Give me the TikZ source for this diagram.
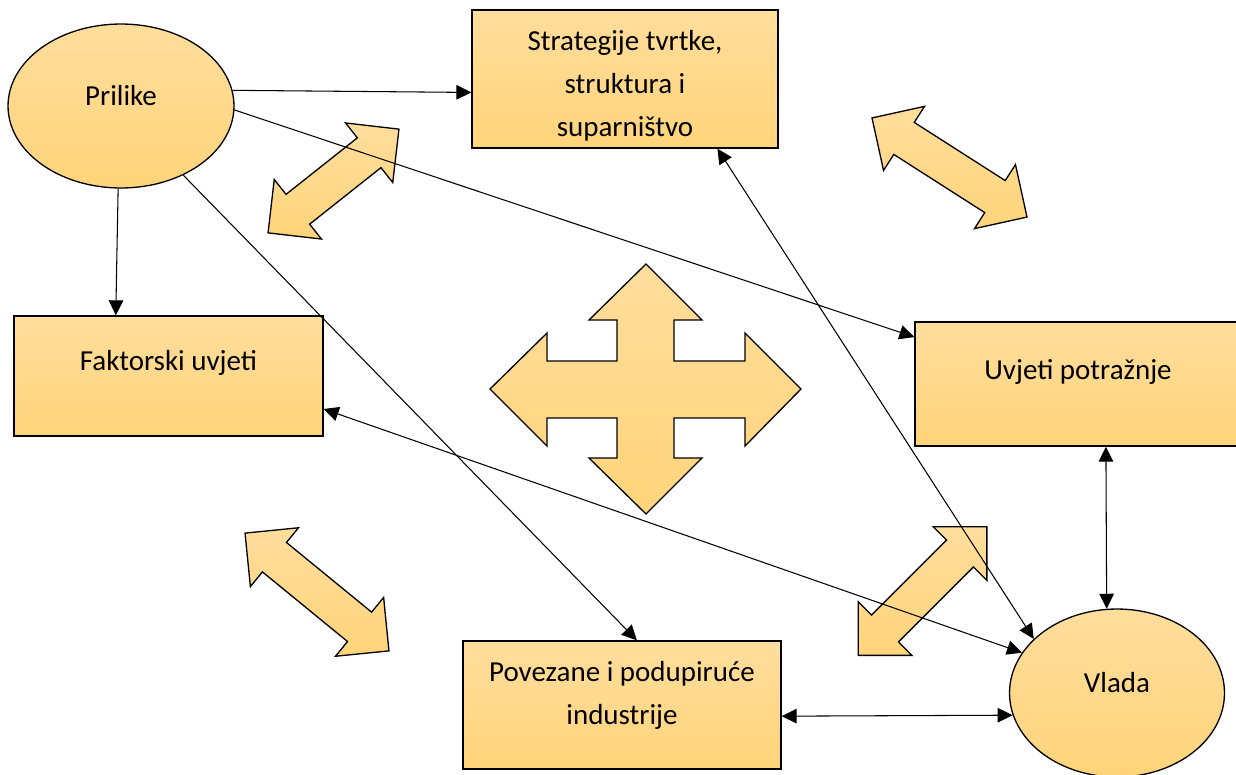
\documentclass[tikz,border=0pt]{standalone}
\usepackage{fontspec}
\setmainfont{Carlito}
\usetikzlibrary{arrows.meta,shapes.geometric}

\definecolor{goldtop}{RGB}{255,221,156}
\definecolor{goldbot}{RGB}{255,212,122}

\tikzset{
  porter/.style={draw, line width=0.75pt, top color=goldtop, bottom color=goldbot, inner sep=0pt},
  porterbox/.style={porter, rectangle},
  porterell/.style={porter, ellipse},
  blockarrow/.style={draw, line width=0.75pt, top color=goldtop, bottom color=goldbot, line join=miter},
  lift/.style={yshift=#1*0.02cm},
  link/.style={line width=0.6pt},
}

\newcommand{\dblarrow}[4]{%
  \draw[blockarrow, shift={(#1,#2)}, rotate=#3] (#4,0) -- (#4-38,38) -- (#4-38,19) -- (-#4+38,19) -- (-#4+38,38) -- (-#4,0) -- (-#4+38,-38) -- (-#4+38,-19) -- (#4-38,-19) -- (#4-38,-38) -- cycle;}

\begin{document}
\begin{tikzpicture}[x=0.02cm, y=-0.02cm, >={Triangle[length=0.3cm, width=0.29cm]}, font=\fontsize{16.5}{24.5}\selectfont]
\useasboundingbox (0,0) rectangle (1236,774);

\dblarrow{333.5}{181}{38.4}{83.5}
\dblarrow{949.5}{167.5}{-32.6}{92}
\dblarrow{317}{592}{-39.3}{93}
\dblarrow{922.5}{591}{45}{91}
\draw[blockarrow] (646,264) -- (702,320) -- (674,320) -- (674,361) -- (745,361) -- (745,333) -- (801,389) -- (745,446) -- (745,418) -- (674,418) -- (674,458) -- (702,458) -- (646,514) -- (589,458) -- (617,458) -- (617,418) -- (547,418) -- (547,446) -- (490,389) -- (547,333) -- (547,361) -- (617,361) -- (617,320) -- (589,320) -- cycle;

\node[porterell, minimum width=4.52cm, minimum height=3.28cm, label={[lift=10]center:Prilike}] (pri) at (121,106) {};
\node[porterbox, minimum width=6.12cm, minimum height=2.76cm, label={[lift=-7, align=center]center:{Strategije tvrtke,\\struktura i\\suparništvo}}] (str) at (625,79) {};
\node[porterbox, minimum width=6.18cm, minimum height=2.4cm, label={[lift=13]center:Faktorski uvjeti}] (fak) at (168.5,376) {};
\node[porterbox, minimum width=6.52cm, minimum height=2.48cm, label={[lift=12]center:Uvjeti potražnje}] (uvj) at (1078,384) {};
\node[porterbox, minimum width=6.36cm, minimum height=2.56cm, label={[lift=10, align=center]center:{Povezane i podupiruće\\industrije}}] (pov) at (622,705) {};
\node[porterell, minimum width=4.3cm, minimum height=3.36cm, label={[lift=10]center:Vlada}] (vla) at (1117,693) {};

\draw[link, ->] (pri.8) -- (str.185);
\draw[link, ->] (pri.-2) -- (uvj.164);
\draw[link, ->] (pri.268) -- (fak.131);
\draw[link, ->] (pri.-48) -- (pov.77);
\draw[link, <->] (str.-37) -- (vla.147);
\draw[link, <->] (fak.-12) -- (vla.157);
\draw[link, <->] (pov.-4) -- (vla.192);
\draw[link, <->] (uvj.-66) -- (vla.97);
\end{tikzpicture}
\end{document}
